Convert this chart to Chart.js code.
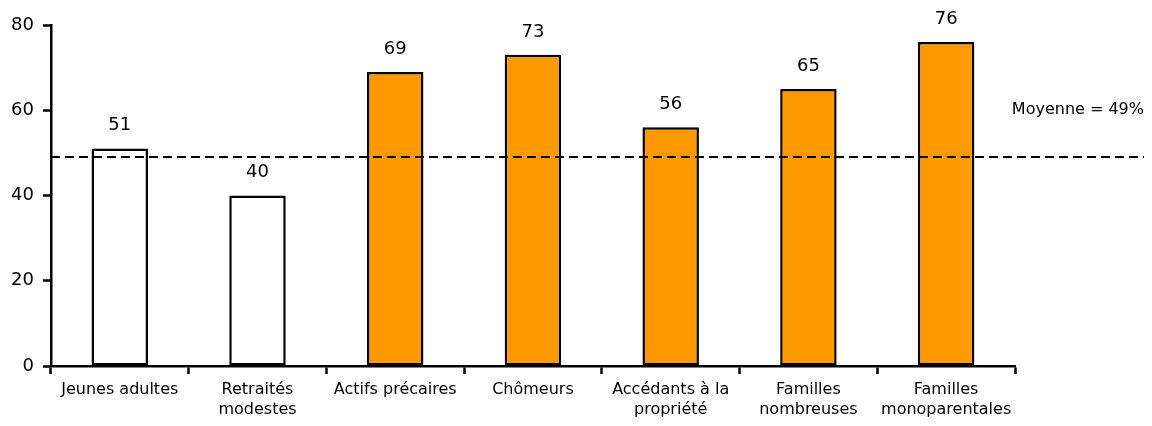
<!DOCTYPE html>
<html>
<head>
<meta charset="utf-8">
<script src="https://cdn.jsdelivr.net/npm/chart.js@4"></script>
<style>
    html, body { margin: 0; padding: 0; background: #fff; }
    .chart-wrapper { width: 1152px; height: 426px; }
</style>
</head>
<body>
<div class="chart-wrapper"><canvas id="profilChart"></canvas></div>
<script>
// Data
const categories = [
    'Jeunes adultes',
    ['Retraités', 'modestes'],
    'Actifs précaires',
    'Chômeurs',
    ['Accédants à la', 'propriété'],
    ['Familles', 'nombreuses'],
    ['Familles', 'monoparentales']
];
const values = [51, 40, 69, 73, 56, 65, 76];
const highlighted = [false, false, true, true, true, true, true];
const average = 49;
const averageLabel = 'Moyenne = 49%';
const yTicks = [0, 20, 40, 60, 80];

const FONT = "Tahoma, 'DejaVu Sans', sans-serif";

// value labels above bars
const valueLabels = {
    id: 'valueLabels',
    afterDatasetsDraw(chart) {
        const ctx = chart.ctx;
        const meta = chart.getDatasetMeta(0);
        ctx.save();
        ctx.fillStyle = '#000';
        ctx.font = '18px ' + FONT;
        ctx.textAlign = 'center';
        ctx.textBaseline = 'bottom';
        meta.data.forEach((bar, i) => {
            ctx.fillText(values[i], bar.x, bar.y - 14);
        });
        ctx.restore();
    }
};

// dashed average line, runs past the plot area to the label
const averageLine = {
    id: 'averageLine',
    afterDatasetsDraw(chart) {
        const ctx = chart.ctx;
        const y = Math.round(chart.scales.y.getPixelForValue(average));
        ctx.save();
        ctx.strokeStyle = '#000';
        ctx.lineWidth = 2;
        ctx.setLineDash([9, 5]);
        ctx.beginPath();
        ctx.moveTo(chart.chartArea.left, y);
        ctx.lineTo(chart.width - 8, y);
        ctx.stroke();
        ctx.setLineDash([]);
        ctx.fillStyle = '#000';
        ctx.font = '16px ' + FONT;
        ctx.textAlign = 'right';
        ctx.textBaseline = 'middle';
        ctx.fillText(averageLabel, chart.width - 8, y - 47);
        ctx.restore();
    }
};

const ctx = document.getElementById('profilChart').getContext('2d');
new Chart(ctx, {
    type: 'bar',
    data: {
        labels: categories,
        datasets: [{
            data: values,
            backgroundColor: highlighted.map(h => h ? '#ff9900' : '#ffffff'),
            borderColor: '#000',
            borderWidth: 2.5,
            borderSkipped: false,
            categoryPercentage: 0.41,
            barPercentage: 1
        }]
    },
    options: {
        responsive: true,
        maintainAspectRatio: false,
        animation: false,
        layout: { padding: { top: 25, right: 137, left: 2, bottom: 0 } },
        plugins: {
            legend: { display: false },
            tooltip: { enabled: false }
        },
        scales: {
            x: {
                offset: true,
                grid: {
                    offset: true,
                    drawOnChartArea: false,
                    drawTicks: true,
                    tickLength: 8,
                    tickWidth: 2.5,
                    color: '#000'
                },
                border: { color: '#000', width: 2.5 },
                ticks: {
                    color: '#000',
                    font: { family: FONT, size: 16, lineHeight: 1.25 },
                    maxRotation: 0,
                    autoSkip: false,
                    padding: 6
                }
            },
            y: {
                min: 0,
                max: 80,
                afterBuildTicks(axis) {
                    axis.ticks = yTicks.map(v => ({ value: v }));
                },
                grid: {
                    drawOnChartArea: false,
                    drawTicks: true,
                    tickLength: 8,
                    tickWidth: 2.5,
                    color: '#000'
                },
                border: { color: '#000', width: 2.5 },
                ticks: {
                    color: '#000',
                    font: { family: FONT, size: 18 },
                    padding: 9
                }
            }
        }
    },
    plugins: [valueLabels, averageLine]
});
</script>
</body>
</html>
